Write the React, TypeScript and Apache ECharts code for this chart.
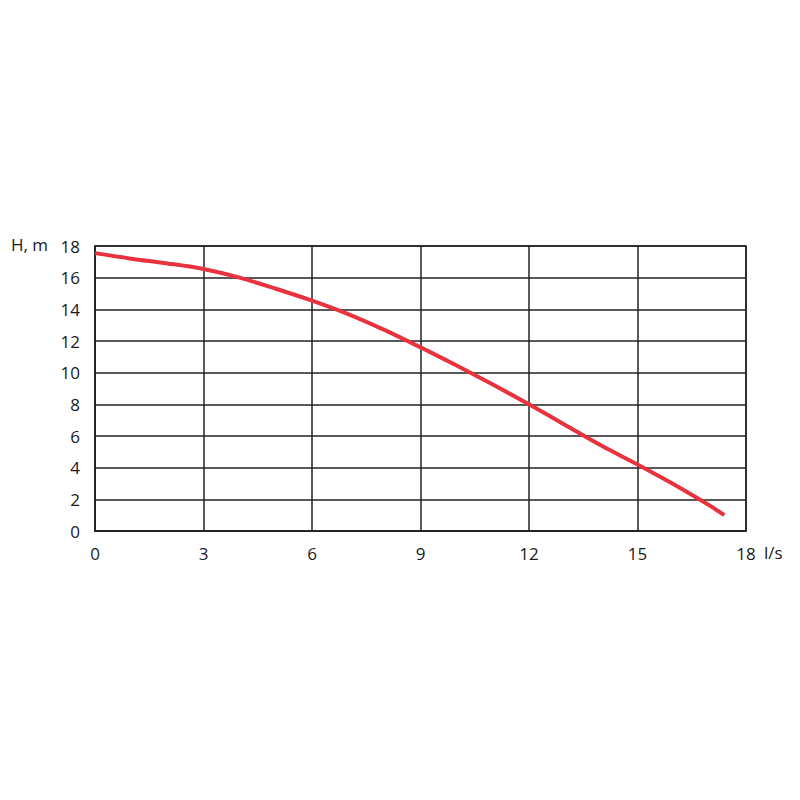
import React, { useEffect, useRef } from "react";
import * as echarts from "echarts";

const flow = [0, 1, 2, 3, 4, 5, 6, 7, 8, 9, 10, 11, 12, 13, 14, 15, 16, 17, 17.4];
const head = [17.55, 17.2, 16.9, 16.55, 16.0, 15.3, 14.55, 13.7, 12.7, 11.6, 10.45, 9.25, 8.0, 6.7, 5.4, 4.2, 2.95, 1.6, 1.0];
const xTicks = [0, 3, 6, 9, 12, 15, 18];
const yTicks = [0, 2, 4, 6, 8, 10, 12, 14, 16, 18];

export default function App() {
  const ref = useRef<HTMLDivElement>(null);
  useEffect(() => {
    if (!ref.current) return;
    const chart = echarts.init(ref.current, null, { renderer: "svg" });
    const font = "Open Sans";
    chart.setOption({
      animation: false,
      backgroundColor: "#ffffff",
      grid: { left: 95, right: 54, top: 246, bottom: 269, containLabel: false },
      xAxis: {
        type: "value",
        min: xTicks[0],
        max: xTicks[xTicks.length - 1],
        interval: 3,
        axisLine: { show: true, lineStyle: { color: "#222", width: 1.5 } },
        axisTick: { show: false },
        splitLine: { show: true, lineStyle: { color: "#222", width: 1.5 } },
        axisLabel: { color: "#1a1a1a", fontSize: 17, fontFamily: font, margin: 14 },
      },
      yAxis: {
        type: "value",
        min: yTicks[0],
        max: yTicks[yTicks.length - 1],
        interval: 2,
        axisLine: { show: true, lineStyle: { color: "#222", width: 1.5 } },
        axisTick: { show: false },
        splitLine: { show: true, lineStyle: { color: "#222", width: 1.5 } },
        axisLabel: { color: "#1a1a1a", fontSize: 17, fontFamily: font, margin: 15 },
      },
      graphic: [
        { type: "rect", shape: { x: 95, y: 246, width: 651, height: 285 }, style: { fill: "none", stroke: "#222", lineWidth: 1.5 }, z: 1, silent: true },
        { type: "text", x: 11, y: 236, style: { text: "H, m", fill: "#1a1a1a", fontSize: 17, fontFamily: font } },
        { type: "text", x: 764, y: 544, style: { text: "l/s", fill: "#1a1a1a", fontSize: 17, fontFamily: font } },
      ],
      series: [
        {
          type: "line",
          data: flow.map((f, i) => [f, head[i]]),
          smooth: 0.3,
          showSymbol: false,
          lineStyle: { color: "#e8323e", width: 4 },
          z: 5,
        },
      ],
    });
    return () => chart.dispose();
  }, []);
  return <div ref={ref} style={{ position: "fixed", left: 0, top: 0, width: 800, height: 800 }} />;
}
